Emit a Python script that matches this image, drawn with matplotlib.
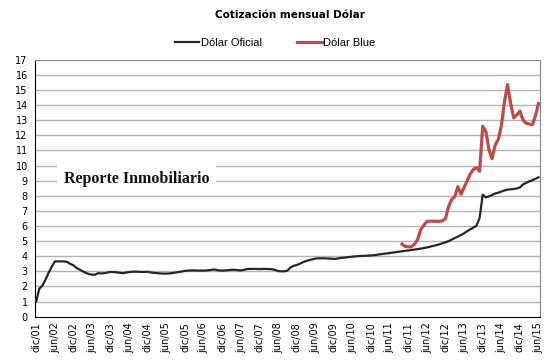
import numpy as np
import matplotlib
matplotlib.use("Agg")
import matplotlib.pyplot as plt

# monthly quotes, dic/01 .. jun/15 (163 months)
oficial = [
    1.00,
    # 2002
    1.85, 2.05, 2.45, 2.90, 3.30, 3.65, 3.66, 3.66, 3.66, 3.62, 3.49, 3.40,
    # 2003
    3.22, 3.12, 3.00, 2.90, 2.82, 2.78, 2.78, 2.88, 2.86, 2.88, 2.92, 2.96,
    # 2004
    2.95, 2.93, 2.90, 2.88, 2.92, 2.95, 2.97, 2.98, 2.97, 2.96, 2.96, 2.97,
    # 2005
    2.92, 2.90, 2.88, 2.86, 2.85, 2.85, 2.86, 2.89, 2.92, 2.96, 2.99, 3.03,
    # 2006
    3.05, 3.06, 3.06, 3.05, 3.05, 3.05, 3.06, 3.08, 3.12, 3.10, 3.06, 3.05,
    # 2007
    3.06, 3.08, 3.10, 3.10, 3.08, 3.06, 3.10, 3.15, 3.16, 3.16, 3.16, 3.15,
    # 2008
    3.16, 3.16, 3.15, 3.14, 3.10, 3.02, 3.00, 3.00, 3.05, 3.25, 3.36, 3.42,
    # 2009
    3.50, 3.60, 3.68, 3.74, 3.79, 3.84, 3.86, 3.86, 3.86, 3.85, 3.84, 3.82,
    # 2010
    3.84, 3.88, 3.90, 3.92, 3.95, 3.97, 3.99, 4.01, 4.02, 4.03, 4.04, 4.05,
    # 2011
    4.07, 4.10, 4.13, 4.16, 4.18, 4.21, 4.24, 4.27, 4.30, 4.33, 4.36, 4.38,
    # 2012
    4.41, 4.44, 4.47, 4.50, 4.54, 4.58, 4.63, 4.68, 4.73, 4.79, 4.85, 4.92,
    # 2013
    5.00, 5.10, 5.20, 5.30, 5.40, 5.52, 5.66, 5.78, 5.90, 6.02, 6.55, 8.07,
    # 2014
    7.90, 7.95, 8.05, 8.15, 8.20, 8.28, 8.35, 8.40, 8.43, 8.45, 8.48, 8.55,
    # 2015
    8.75, 8.85, 8.95, 9.03, 9.12, 9.22,
]

# blue starts oct/11
blue_inicio = 118
blue = [
    4.80, 4.65, 4.62,
    # 2012
    4.62, 4.80, 5.10, 5.76, 6.05, 6.30, 6.32, 6.32, 6.31, 6.31, 6.33, 6.50,
    # 2013
    7.30, 7.75, 7.95, 8.60, 8.10, 8.55, 9.00, 9.45, 9.75, 9.85, 9.62, 12.60,
    # 2014
    12.25, 11.06, 10.45, 11.35, 11.72, 12.60, 14.20, 15.35, 14.10, 13.15, 13.35, 13.60,
    # 2015
    13.00, 12.80, 12.75, 12.70, 13.30, 14.10,
]

tick_labels = ["dic/01", "jun/02", "dic/02", "jun/03", "dic/03", "jun/04", "dic/04",
               "jun/05", "dic/05", "jun/06", "dic/06", "jun/07", "dic/07", "jun/08",
               "dic/08", "jun/09", "dic/09", "jun/10", "dic/10", "jun/11", "dic/11",
               "jun/12", "dic/12", "jun/13", "dic/13", "jun/14", "dic/14", "jun/15"]

n = len(oficial)
x = np.arange(n)
blue_full = np.full(n, np.nan)
blue_full[blue_inicio:blue_inicio + len(blue)] = blue

fig = plt.figure(figsize=(5.5, 3.64), dpi=100)
ax = fig.add_axes([0.063, 0.130, 0.919, 0.706])

for v in range(1, 17):
    ax.axhline(v, color="#b4b4b4", linewidth=1.0, zorder=1)

ax.plot(x, oficial, color="#262626", linewidth=1.6, label="Dólar Oficial", zorder=3)
ax.plot(x, blue_full, color="#be4b48", linewidth=2.3, label="Dólar Blue", zorder=4)

ax.set_xlim(-0.5, n - 0.5)
ax.set_ylim(0, 17)
ax.set_yticks(range(0, 18))
ax.set_xticks(range(0, n, 6))
ax.set_xticklabels(tick_labels, rotation=90, fontsize=7, family="DejaVu Sans")
ax.tick_params(axis="y", labelsize=7, length=0, pad=5)
ax.tick_params(axis="x", length=0, pad=4)

ax.spines["left"].set_color("#000000")
ax.spines["bottom"].set_color("#000000")
ax.spines["top"].set_color("#868686")
ax.spines["right"].set_color("#868686")

# marca de agua
ax.text(0.202, 0.535, "Reporte Inmobiliario", transform=ax.transAxes,
        ha="center", va="center", fontsize=11.5, fontweight="bold",
        family="Liberation Serif", color="#111111", zorder=2,
        bbox=dict(facecolor="white", edgecolor="none", pad=5))

fig.text(0.527, 0.958, "Cotización mensual Dólar", ha="center", va="center",
         fontsize=7.5, fontweight="bold", family="DejaVu Sans")

fig.legend(loc="center", bbox_to_anchor=(0.5, 0.882), ncol=2, frameon=False,
           prop={"family": "Liberation Sans", "size": 8}, handlelength=2.2,
           handletextpad=0.1, columnspacing=3.2)

fig.savefig("out.png", dpi=100)
